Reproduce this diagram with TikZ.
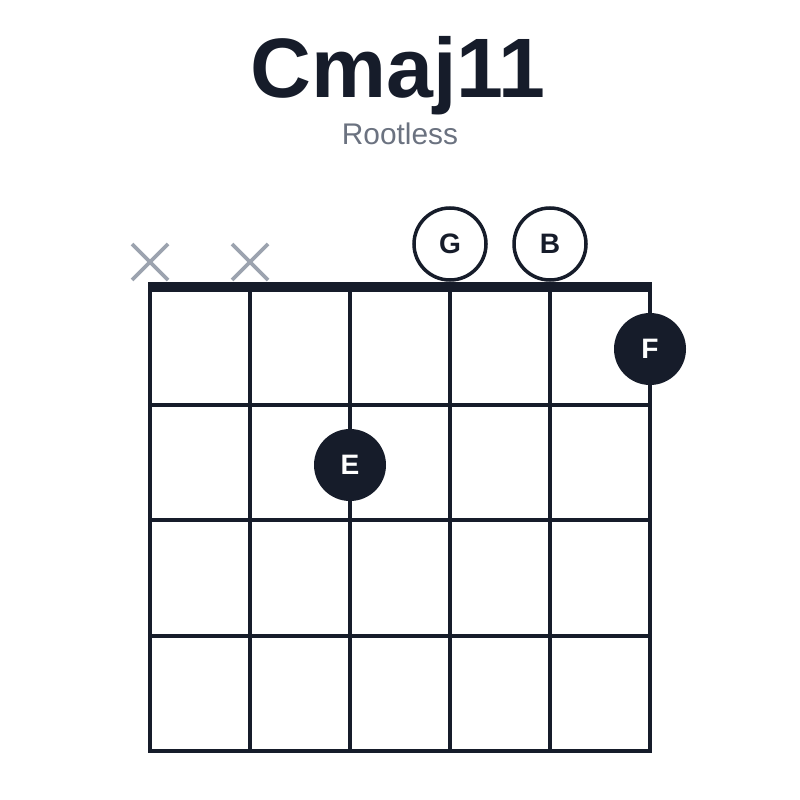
\documentclass[tikz,border=0pt]{standalone}
\usepackage{fontspec}
\setmainfont{Liberation Sans}
\begin{document}
\begin{tikzpicture}[x=0.02cm,y=-0.02cm,
  line/.style={draw=ink,line width=2pt},
  open/.style={circle,draw=ink,line width=2pt,fill=white,minimum size=72*0.02cm,inner sep=0pt,font=\fontsize{16}{16}\selectfont\bfseries,text=ink},
  fing/.style={circle,fill=ink,minimum size=72*0.02cm,inner sep=0pt,font=\fontsize{16}{16}\selectfont\bfseries,text=white},
  mute/.style={draw=xg,line width=2.2pt}]
\definecolor{ink}{HTML}{161C2A}
\definecolor{sub}{HTML}{6B7280}
\definecolor{xg}{HTML}{9CA3AF}
\useasboundingbox (0,0) rectangle (800,800);
\node[font=\fontsize{48}{48}\selectfont\bfseries,text=ink] (title) at (398,76) {Cmaj11};
\node[font=\fontsize{17}{17}\selectfont,text=sub] (subtitle) at (400,134) {Rootless};
\foreach \x in {150,250,350,450,550,650} \draw[line] (\x,287) -- (\x,751);
\foreach \y in {405,520,636,751} \draw[line] (148.2,\y) -- (651.8,\y);
\draw[ink,line width=5.5pt] (148.2,287) -- (651.8,287);
\foreach \x/\n in {150/a,250/b}{
  \coordinate (m\n) at (\x,262);
  \draw[mute] ([shift={(-18,-18)}]m\n) -- ([shift={(18,18)}]m\n);
  \draw[mute] ([shift={(-18,18)}]m\n) -- ([shift={(18,-18)}]m\n);
}
\node[open] (G) at (450,244) {G};
\node[open] (B) at (550,244) {B};
\node[fing] (F) at (650,349) {F};
\node[fing] (E) at (350,465) {E};
\end{tikzpicture}
\end{document}
